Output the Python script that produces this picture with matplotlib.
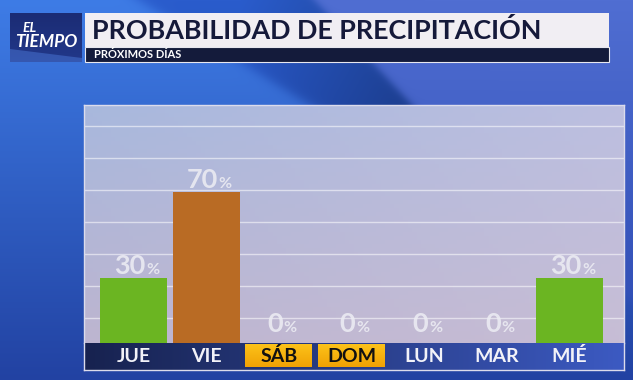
import numpy as np
import matplotlib
matplotlib.use("Agg")
import matplotlib.pyplot as plt
from matplotlib.patches import Rectangle, Polygon
from matplotlib.colors import to_rgb
import matplotlib.transforms as mtransforms

# ---------------- data ----------------
days = ["JUE", "VIE", "SÁB", "DOM", "LUN", "MAR", "MIÉ"]
probability = [30, 70, 0, 0, 0, 0, 30]
bar_colors = ["#6bb522", "#b96b24", "#6bb522", "#6bb522", "#6bb522", "#6bb522", "#6bb522"]
weekend = [False, False, True, True, False, False, False]
title = "PROBABILIDAD DE PRECIPITACIÓN"
subtitle = "PRÓXIMOS DÍAS"
logo_top = "EL"
logo_bottom = "TIEMPO"

FONT = "Lato"
W, H = 633, 380
fig = plt.figure(figsize=(W / 100, H / 100), dpi=100)


def sig(z):
    return 1.0 / (1.0 + np.exp(-z))


# ---------------- background ----------------
bg = fig.add_axes([0, 0, 1, 1])
bg.set_xlim(0, W)
bg.set_ylim(H, 0)
bg.axis("off")
yy, xx = np.mgrid[0:H, 0:W].astype(float)
tv = (yy / H)[..., None]
left_c = np.array(to_rgb("#3e7ce6")) * (1 - tv) + np.array(to_rgb("#2242a2")) * tv
wedge_c = np.array(to_rgb("#2a5ccc")) * (1 - tv) + np.array(to_rgb("#1b3a9c")) * tv
right_c = np.array(to_rgb("#506ed2")) * (1 - tv) + np.array(to_rgb("#2a48b0")) * tv
s1 = xx - (240 + (yy - 62) * 1.63)
s2 = xx - (372 + (yy - 62) * 0.93)
m1 = sig(s1 / 6.0)[..., None]
m2 = sig(s2 / 3.0)[..., None]
wshade = np.clip((xx - 240) / 170.0, 0, 1)[..., None]
wedge_c2 = wedge_c * (1 - 0.25 * wshade)
img = left_c * (1 - m1) + (wedge_c2 * (1 - m2) + right_c * m2) * m1
img = np.clip(img, 0, 1)
bg.imshow(img, extent=(0, W, H, 0), aspect="auto", zorder=0)

# ---------------- header ----------------
ly = np.linspace(0, 1, 50)[:, None]
logo_img = np.array(to_rgb("#1b2c74")) * (1 - ly[..., None]) + np.array(to_rgb("#22388a")) * ly[..., None]
logo_img = np.repeat(logo_img, 10, axis=1)
bg.imshow(logo_img, extent=(10, 82, 62, 13), aspect="auto", zorder=1)
bg.add_patch(Polygon([[10, 49], [82, 58], [82, 62], [10, 62]], closed=True,
                     facecolor="#4f7fe0", alpha=0.45, lw=0, zorder=1.5))
bg.text(30, 32, logo_top, fontsize=10, fontstyle="italic", fontweight="bold",
        color="white", family=FONT, ha="center", va="baseline", zorder=2)
bg.text(46.5, 47, logo_bottom, fontsize=12.5, fontstyle="italic", fontweight="bold",
        color="white", family=FONT, ha="center", va="baseline", zorder=2)

bg.add_patch(Rectangle((85, 13), 524, 33.5, facecolor="#f1eef3", edgecolor="none", zorder=1))
bg.add_patch(Rectangle((85, 46.5), 524, 15, facecolor="#141b3b", edgecolor="#e8e8f0",
                       lw=0.8, zorder=1))
bg.text(92, 39, title, fontsize=19.4, fontweight="bold", color="#15193a",
        family=FONT, ha="left", va="baseline", zorder=2)
bg.text(94, 58.5, subtitle, fontsize=8, fontweight="bold", color="white",
        family=FONT, ha="left", va="baseline", zorder=2)

# ---------------- main panel ----------------
px0, px1, py0, py1 = 84, 624, 105, 343
ax = fig.add_axes([px0 / W, 1 - py1 / H, (px1 - px0) / W, (py1 - py0) / H])
x = np.arange(len(days))
xlim = (-0.68, 6.75)
ylim = (0, 110)
ax.set_xlim(*xlim)
ax.set_ylim(*ylim)

gy, gx = np.mgrid[0:60, 0:120]
c_tl = np.array(to_rgb("#a8b8dd"))
c_bl = np.array(to_rgb("#bdb5d0"))
c_tr = np.array(to_rgb("#bcbfe0"))
c_br = np.array(to_rgb("#c7bdd5"))
u = (gx / 119.0)[..., None]
v = (gy / 59.0)[..., None]
pimg = (c_tl * (1 - u) * (1 - v) + c_tr * u * (1 - v) + c_bl * (1 - u) * v + c_br * u * v)
ax.imshow(pimg, extent=(xlim[0], xlim[1], ylim[0], ylim[1]), aspect="auto", zorder=0)

for gl in np.arange(11.4, 110, 14.85):
    ax.axhline(gl, color="white", alpha=0.55, lw=1, zorder=1)

ax.bar(x, probability, width=0.92, color=bar_colors, zorder=2)

fig.canvas.draw()
renderer = fig.canvas.get_renderer()
gap = 1.0
for xi, val in zip(x, probability):
    ybase = max(val, 5.2)
    dy = 4 if val > 0 else 0
    tn = ax.text(xi, ybase, f"{val}", fontsize=19.5, fontweight="bold",
                 color="#ececf3", alpha=0.88, family=FONT, ha="left", va="baseline", zorder=3)
    tp = ax.text(xi, ybase, "%", fontsize=11.5, fontweight="bold",
                 color="#ececf3", alpha=0.88, family=FONT, ha="left", va="baseline", zorder=3)
    wn = tn.get_window_extent(renderer).width
    wp = tp.get_window_extent(renderer).width
    start = -(wn + wp + gap) / 2 + 3
    tn.set_transform(mtransforms.offset_copy(ax.transData, fig=fig, x=start, y=dy, units="dots"))
    tp.set_transform(mtransforms.offset_copy(ax.transData, fig=fig, x=start + wn + gap, y=dy, units="dots"))

ax.set_xticks([])
ax.set_yticks([])
for s in ["left", "right", "top"]:
    ax.spines[s].set_color("#dcdcec")
    ax.spines[s].set_linewidth(1)
ax.spines["bottom"].set_visible(False)

# ---------------- label band ----------------
by0, by1 = 343, 370
bax = fig.add_axes([px0 / W, 1 - by1 / H, (px1 - px0) / W, (by1 - by0) / H])
bax.set_xlim(*xlim)
bax.set_ylim(0, 1)
bu = np.linspace(0, 1, 200)[None, :, None]
band = np.array(to_rgb("#17224f")) * (1 - bu) + np.array(to_rgb("#3c5ac2")) * bu
band = np.repeat(band, 4, axis=0)
bax.imshow(band, extent=(xlim[0], xlim[1], 0, 1), aspect="auto", zorder=0)
yv = np.linspace(0, 1, 30)[:, None, None]
ybox = np.array(to_rgb("#fcc21a")) * (1 - yv) + np.array(to_rgb("#f0a204")) * yv
ybox = np.repeat(ybox, 4, axis=1)
for xi, lab, wk in zip(x, days, weekend):
    if wk:
        bax.imshow(ybox, extent=(xi - 0.46, xi + 0.46, 0.1, 0.93), aspect="auto", zorder=1)
    bax.text(xi, 0.5, lab, fontsize=14, fontweight="bold",
             color="#111111" if wk else "#f2f2f8", family=FONT,
             ha="center", va="center", zorder=2)
bax.set_xlim(*xlim)
bax.set_ylim(0, 1)
bax.set_xticks([])
bax.set_yticks([])
for s in bax.spines.values():
    s.set_color("#dcdcec")
    s.set_linewidth(1)
bax.spines["top"].set_visible(False)

fig.savefig("out.png", dpi=100)
